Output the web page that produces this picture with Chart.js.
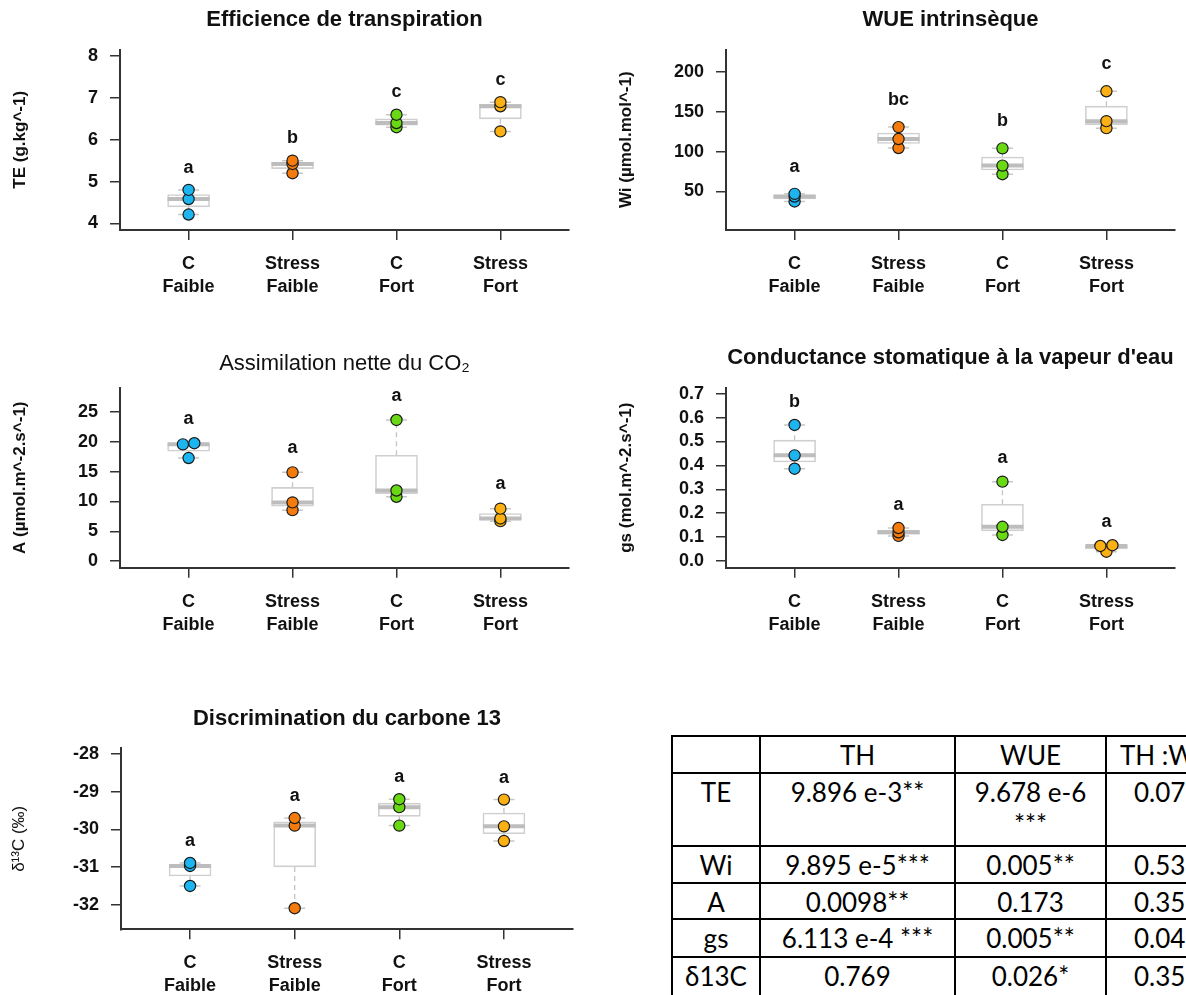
<!DOCTYPE html>
<html>
<head>
<meta charset="utf-8">
<script src="https://cdn.jsdelivr.net/npm/chart.js@4.4.1/dist/chart.umd.min.js"></script>
<style>
  html, body { margin:0; padding:0; background:#fff; }
  #page { position:relative; width:1186px; height:995px; overflow:hidden; background:#fff; }
  canvas { position:absolute; }
  #stats { position:absolute; left:671px; top:735px; border-collapse:collapse; table-layout:fixed;
           font-family:Lato, "Open Sans", sans-serif; font-size:26px; color:#000; }
  #stats td { border:2px solid #000; text-align:center; vertical-align:top; padding:2px 0 0 0;
              line-height:32px; white-space:nowrap; overflow:hidden; }
  #stats td.last { text-align:left; padding-left:27px; }
  #stats td.lasthead { text-align:left; padding-left:13px; }
</style>
</head>
<body>
<div id="page">
  <canvas id="c1" width="600" height="310" style="left:0;top:0"></canvas>
  <canvas id="c2" width="586" height="310" style="left:600px;top:0"></canvas>
  <canvas id="c3" width="600" height="300" style="left:0;top:340px"></canvas>
  <canvas id="c4" width="586" height="300" style="left:600px;top:340px"></canvas>
  <canvas id="c5" width="600" height="295" style="left:0;top:700px"></canvas>
  <table id="stats"></table>
</div>
<script>
// ---------------- DATA ----------------
const categories = [["C","Faible"],["Stress","Faible"],["C","Fort"],["Stress","Fort"]];

const teValues = [[4.21,4.58,4.80],[5.20,5.42,5.50],[6.30,6.40,6.60],[6.20,6.80,6.90]];
const teLetters = ["a","b","c","c"];
const teTicks = [4,5,6,7,8];

const wiValues = [[37.5,43.7,47.0],[104.6,115.9,130.9],[71.7,82.5,104.2],[129.6,138.4,175.9]];
const wiLetters = ["a","bc","b","c"];
const wiTicks = [50,100,150,200];

const aValues = [[17.3,19.6,19.8],[8.55,9.85,14.9],[10.8,11.85,23.7],[6.7,7.15,8.8]];
const aXOffsets = [[0,-0.055,0.055],[0,0,0],[0,0,0],[0,0,0]];
const aLetters = ["a","a","a","a"];
const aTicks = [0,5,10,15,20,25];

const gsValues = [[0.386,0.442,0.569],[0.105,0.120,0.138],[0.109,0.143,0.332],[0.039,0.063,0.066]];
const gsXOffsets = [[0,0,0],[0,0,0],[0,0,0],[0,-0.058,0.058]];
const gsLetters = ["b","a","a","a"];
const gsTicks = [0,0.1,0.2,0.3,0.4,0.5,0.6,0.7];

const d13Values = [[-31.5,-30.97,-30.89],[-32.09,-29.9,-29.7],[-29.9,-29.41,-29.2],[-30.31,-29.92,-29.21]];
const d13Letters = ["a","a","a","a"];
const d13Ticks = [-32,-31,-30,-29,-28];

const tableHeader = ["", "TH", "WUE", "TH :W"];
const tableRows = [
  ["TE", "9.896 e-3**", "9.678 e-6\n***", "0.07"],
  ["Wi", "9.895 e-5***", "0.005**", "0.53"],
  ["A", "0.0098**", "0.173", "0.35"],
  ["gs", "6.113 e-4 ***", "0.005**", "0.04"],
  ["\u03b413C", "0.769", "0.026*", "0.35"]
];

// ---------------- STYLE ----------------
const groupColors = ['#1cb5ef', '#f67b0d', '#68d912', '#fbb114'];
const FONT = "'Liberation Sans', Arial, sans-serif";

function fivenum(a) {
  const s = [...a].sort((p, q) => p - q);
  const n = s.length;
  const n4 = Math.floor((n + 3) / 2) / 2;
  const d = [1, n4, (n + 1) / 2, n + 1 - n4, n];
  return d.map(v => 0.5 * (s[Math.floor(v) - 1] + s[Math.ceil(v) - 1]));
}

const rboxPlugin = {
  id: 'rbox',
  afterDatasetDraw(chart, args, opts) {
    if (args.index !== 0) return;
    const {ctx, scales: {x, y}} = chart;
    const vals = opts.values;
    ctx.save();
    vals.forEach((g, i) => {
      const f = fivenum(g);
      const cx = x.getPixelForValue(i + 1);
      const half = opts.boxWidth / 2, cap = opts.boxWidth / 4;
      // whiskers
      ctx.strokeStyle = '#c4c4c4'; ctx.lineWidth = 1.3; ctx.setLineDash([5, 4]);
      ctx.beginPath();
      if (f[4] > f[3]) { ctx.moveTo(cx, y.getPixelForValue(f[3])); ctx.lineTo(cx, y.getPixelForValue(f[4])); }
      if (f[0] < f[1]) { ctx.moveTo(cx, y.getPixelForValue(f[1])); ctx.lineTo(cx, y.getPixelForValue(f[0])); }
      ctx.stroke();
      ctx.setLineDash([]);
      // caps
      ctx.strokeStyle = '#c8c8c8'; ctx.lineWidth = 1.5;
      ctx.beginPath();
      ctx.moveTo(cx - cap, y.getPixelForValue(f[4])); ctx.lineTo(cx + cap, y.getPixelForValue(f[4]));
      ctx.moveTo(cx - cap, y.getPixelForValue(f[0])); ctx.lineTo(cx + cap, y.getPixelForValue(f[0]));
      ctx.stroke();
      // median
      ctx.strokeStyle = '#bdbdbd'; ctx.lineWidth = 4;
      ctx.beginPath();
      ctx.moveTo(cx - half, y.getPixelForValue(f[2])); ctx.lineTo(cx + half, y.getPixelForValue(f[2]));
      ctx.stroke();
    });
    ctx.restore();
  },
  afterDatasetsDraw(chart, args, opts) {
    const {ctx, scales: {x, y}} = chart;
    ctx.save();
    ctx.font = "bold 18px " + FONT;
    ctx.fillStyle = '#111';
    ctx.textAlign = 'center';
    ctx.textBaseline = 'middle';
    opts.values.forEach((g, i) => {
      const top = Math.max(...g);
      ctx.fillText(opts.letters[i], x.getPixelForValue(i + 1), y.getPixelForValue(top + opts.letterOffset));
    });
    ctx.restore();
  }
};

function makePanel(p) {
  const boxData = p.values.map((g, i) => { const f = fivenum(g); return {x: i + 1, y: [f[1], f[3]]}; });
  const pts = [], cols = [];
  p.values.forEach((g, i) => g.forEach((v, j) => {
    pts.push({x: i + 1 + (p.xoff ? p.xoff[i][j] : 0), y: v});
    cols.push(groupColors[i]);
  }));
  const canvas = document.getElementById(p.id);
  const W = canvas.width, H = canvas.height;
  return new Chart(canvas, {
    type: 'scatter',
    data: {
      datasets: [
        { type: 'bar', data: boxData, backgroundColor: '#ffffff', borderColor: '#cfcfcf',
          borderWidth: 1.6, borderSkipped: false, barThickness: 42, order: 2 },
        { type: 'scatter', data: pts, pointBackgroundColor: cols, pointBorderColor: '#1a1a1a',
          pointBorderWidth: 1.2, pointRadius: 5.6, pointHoverRadius: 5.6, showLine: false, order: 1 }
      ]
    },
    options: {
      responsive: false, animation: false, devicePixelRatio: 1,
      layout: { padding: { left: 0, right: W - p.area.r, top: 0, bottom: 0 } },
      plugins: {
        legend: { display: false }, tooltip: { enabled: false },
        title: { display: true, text: p.title, fullSize: false, color: '#111',
                 font: { family: FONT, size: 22, weight: p.titleBold ? 'bold' : 'normal', lineHeight: 1.2 },
                 padding: { top: p.titleCY - 13.2, bottom: p.area.t - (p.titleCY - 13.2) - 26.4 } },
        rbox: { values: p.values, letters: p.letters, letterOffset: p.letterOffset, boxWidth: 42 }
      },
      scales: {
        x: {
          type: 'linear', min: 0.34, max: 4.66, offset: false,
          afterBuildTicks: s => { s.ticks = categories.map((c, i) => ({value: i + 1})); },
          afterFit: s => { s.height = H - p.area.b; },
          ticks: { autoSkip: false, maxRotation: 0, minRotation: 0, padding: 12.5, color: '#111',
                   font: { family: FONT, size: 18, weight: 'bold', lineHeight: 1.28 },
                   callback: v => categories[Math.round(v) - 1] },
          grid: { display: true, drawOnChartArea: false, drawTicks: true, tickLength: 10, color: '#333', lineWidth: 1.5, offset: false },
          border: { display: true, color: '#333', width: 2 }
        },
        y: {
          type: 'linear', min: p.ymin, max: p.ymax, beginAtZero: false,
          afterBuildTicks: s => { s.ticks = p.ticks.map(v => ({value: v})); },
          afterFit: s => { s.width = p.area.l; },
          ticks: { autoSkip: false, padding: 12, color: '#111',
                   font: { family: FONT, size: 18, weight: 'bold' },
                   callback: v => p.fmt(v) },
          grid: { display: true, drawOnChartArea: false, drawTicks: true, tickLength: 10, color: '#333', lineWidth: 1.5 },
          border: { display: true, color: '#333', width: 2 },
          title: { display: true, text: p.ytitle, color: '#111',
                   font: { family: FONT, size: p.ytitleSize, weight: p.ytitleBold ? 'bold' : 'normal', lineHeight: 1.2 },
                   padding: { top: p.ytitleX - p.ytitleSize * 0.6, bottom: 0 } }
        }
      }
    },
    plugins: [rboxPlugin]
  });
}

const fmtInt = v => String(v);
const fmt1 = v => v.toFixed(1);

makePanel({ id: 'c1', area: {l: 120, r: 569, t: 49.5, b: 230}, title: 'Efficience de transpiration', titleBold: true, titleCY: 19.7,
  ytitle: 'TE (g.kg^-1)', ytitleX: 20, ytitleBold: true, ytitleSize: 17,
  values: teValues, letters: teLetters, letterOffset: 0.535, ticks: teTicks, fmt: fmtInt, ymin: 3.84, ymax: 8.16 });
makePanel({ id: 'c2', area: {l: 126, r: 575, t: 49.5, b: 230}, title: 'WUE intrinsèque', titleBold: true, titleCY: 19.7,
  ytitle: 'Wi (µmol.mol^-1)', ytitleX: 26, ytitleBold: true, ytitleSize: 17,
  values: wiValues, letters: wiLetters, letterOffset: 34, ticks: wiTicks, fmt: fmtInt, ymin: 1.6, ymax: 228.4 });
makePanel({ id: 'c3', area: {l: 120, r: 569, t: 47.7, b: 227.7}, title: 'Assimilation nette du CO\u2082', titleBold: false, titleCY: 23.6,
  ytitle: 'A (µmol.m^-2.s^-1)', ytitleX: 20, ytitleBold: true, ytitleSize: 17,
  values: aValues, xoff: aXOffsets, letters: aLetters, letterOffset: 4.1, ticks: aTicks, fmt: fmtInt, ymin: -1.12, ymax: 29.12 });
makePanel({ id: 'c4', area: {l: 126, r: 575, t: 47.7, b: 227.7}, title: "Conductance stomatique à la vapeur d'eau", titleBold: true, titleCY: 17.5,
  ytitle: 'gs (mol.m^-2.s^-1)', ytitleX: 26, ytitleBold: true, ytitleSize: 17,
  values: gsValues, xoff: gsXOffsets, letters: gsLetters, letterOffset: 0.098, ticks: gsTicks, fmt: fmt1, ymin: -0.028, ymax: 0.725 });
makePanel({ id: 'c5', area: {l: 121, r: 573, t: 48.3, b: 229.3}, title: 'Discrimination du carbone 13', titleBold: true, titleCY: 19,
  ytitle: '\u03b4\u00b9\u00b3C (\u2030)', ytitleX: 19, ytitleBold: false, ytitleSize: 17,
  values: d13Values, letters: d13Letters, letterOffset: 0.58, ticks: d13Ticks, fmt: fmtInt, ymin: -32.65, ymax: -27.85 });

// ---------------- TABLE ----------------
(function buildTable() {
  const t = document.getElementById('stats');
  const colW = [88, 195, 151, 160];
  const rowH = [37, 73, 37, 36, 38, 40];
  const cg = document.createElement('colgroup');
  colW.forEach(w => { const c = document.createElement('col'); c.style.width = w + 'px'; cg.appendChild(c); });
  t.appendChild(cg);
  [tableHeader, ...tableRows].forEach((r, ri) => {
    const tr = document.createElement('tr');
    tr.style.height = rowH[ri] + 'px';
    r.forEach((txt, ci) => {
      const td = document.createElement('td');
      if (ci === 3) td.className = ri === 0 ? 'lasthead' : 'last';
      txt.split('\n').forEach((line, k) => { if (k) td.appendChild(document.createElement('br')); td.appendChild(document.createTextNode(line)); });
      tr.appendChild(td);
    });
    t.appendChild(tr);
  });
  t.style.width = colW.reduce((a, b) => a + b, 0) + 'px';
})();
</script>
</body>
</html>
